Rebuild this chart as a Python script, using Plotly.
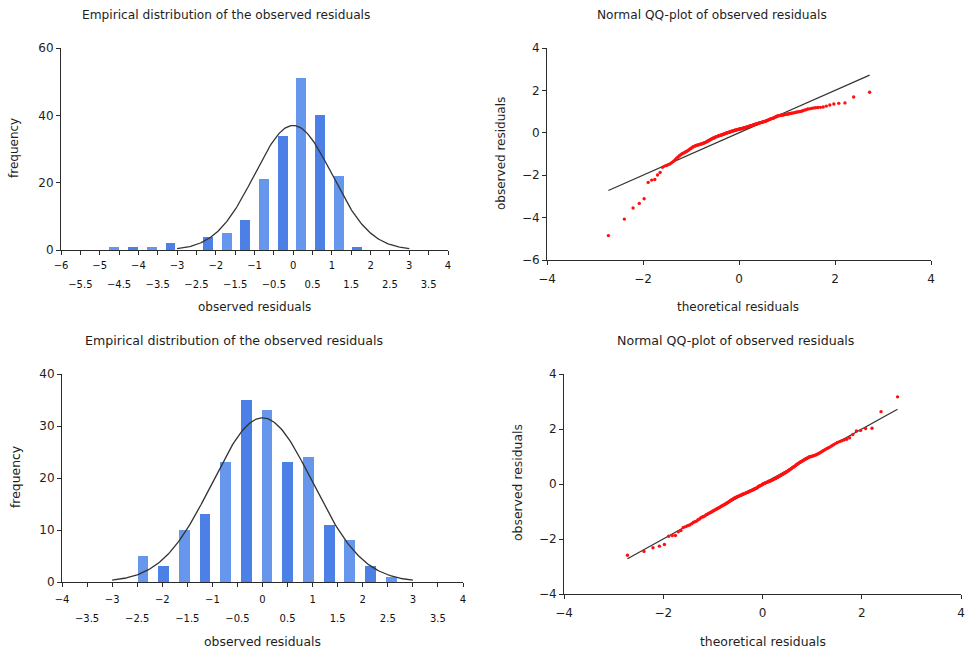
import numpy as np
import plotly.graph_objects as go
from statistics import NormalDist

W, H = 967, 655

# ---------------- data ----------------
top_bin_centers = [-4.62, -4.137, -3.654, -3.171, -2.688, -2.205, -1.722, -1.239,
                   -0.756, -0.273, 0.21, 0.693, 1.176, 1.659]
top_counts = [1, 1, 1, 2, 0, 4, 5, 9, 21, 34, 51, 40, 22, 1]

bottom_bin_centers = [-2.384, -1.972, -1.559, -1.147, -0.734, -0.322, 0.09, 0.503,
                      0.915, 1.328, 1.74, 2.153, 2.565]
bottom_counts = [5, 3, 10, 13, 23, 35, 33, 23, 24, 11, 8, 3, 1]

top_obs = [
    -4.85, -4.07, -3.55, -3.33, -3.11, -2.34, -2.23, -2.20, -1.99, -1.87,
    -1.63, -1.57, -1.54, -1.50, -1.46, -1.40, -1.34, -1.27, -1.20, -1.14,
    -1.08, -1.03, -0.99, -0.96, -0.93, -0.90, -0.87, -0.84, -0.80, -0.76,
    -0.73, -0.70, -0.66, -0.64, -0.62, -0.60, -0.59, -0.58, -0.56, -0.55,
    -0.54, -0.53, -0.51, -0.50, -0.48, -0.47, -0.45, -0.43, -0.41, -0.39,
    -0.37, -0.35, -0.33, -0.31, -0.29, -0.27, -0.26, -0.24, -0.23, -0.21,
    -0.19, -0.18, -0.17, -0.16, -0.14, -0.13, -0.12, -0.11, -0.10, -0.09,
    -0.08, -0.07, -0.06, -0.05, -0.03, -0.02, -0.01, 0.00, 0.01, 0.02,
    0.03, 0.04, 0.05, 0.06, 0.07, 0.08, 0.09, 0.10, 0.11, 0.12,
    0.12, 0.13, 0.14, 0.15, 0.16, 0.17, 0.17, 0.18, 0.19, 0.19,
    0.20, 0.21, 0.22, 0.23, 0.23, 0.24, 0.25, 0.26, 0.27, 0.28,
    0.29, 0.30, 0.31, 0.32, 0.33, 0.34, 0.35, 0.36, 0.37, 0.38,
    0.39, 0.40, 0.41, 0.42, 0.43, 0.44, 0.45, 0.46, 0.47, 0.48,
    0.49, 0.50, 0.51, 0.52, 0.53, 0.54, 0.55, 0.57, 0.58, 0.60,
    0.61, 0.63, 0.64, 0.66, 0.67, 0.68, 0.70, 0.71, 0.73, 0.75,
    0.77, 0.79, 0.80, 0.81, 0.82, 0.83, 0.84, 0.84, 0.85, 0.86,
    0.87, 0.88, 0.89, 0.90, 0.91, 0.92, 0.93, 0.94, 0.95, 0.97,
    0.98, 0.99, 1.00, 1.02, 1.04, 1.07, 1.09, 1.12, 1.13, 1.15,
    1.17, 1.18, 1.19, 1.20, 1.22, 1.26, 1.31, 1.36, 1.39, 1.41,
    1.69, 1.91,
]

bottom_obs = [
    -2.59, -2.45, -2.32, -2.26, -2.20, -1.90, -1.87, -1.87, -1.74, -1.69,
    -1.58, -1.55, -1.52, -1.49, -1.45, -1.40, -1.37, -1.35, -1.30, -1.27,
    -1.23, -1.20, -1.18, -1.16, -1.12, -1.10, -1.07, -1.05, -1.03, -1.01,
    -0.98, -0.96, -0.94, -0.92, -0.90, -0.88, -0.86, -0.84, -0.82, -0.80,
    -0.78, -0.76, -0.75, -0.73, -0.71, -0.69, -0.67, -0.65, -0.63, -0.61,
    -0.59, -0.57, -0.55, -0.54, -0.52, -0.51, -0.49, -0.48, -0.46, -0.45,
    -0.44, -0.43, -0.42, -0.41, -0.40, -0.38, -0.37, -0.36, -0.35, -0.34,
    -0.33, -0.32, -0.31, -0.30, -0.29, -0.27, -0.26, -0.25, -0.24, -0.23,
    -0.22, -0.21, -0.20, -0.18, -0.17, -0.16, -0.15, -0.14, -0.12, -0.10,
    -0.08, -0.07, -0.06, -0.05, -0.04, -0.02, -0.01, 0.01, 0.02, 0.03,
    0.04, 0.05, 0.06, 0.07, 0.08, 0.09, 0.10, 0.11, 0.12, 0.13,
    0.14, 0.15, 0.17, 0.18, 0.19, 0.20, 0.21, 0.23, 0.24, 0.25,
    0.27, 0.28, 0.30, 0.31, 0.33, 0.34, 0.36, 0.37, 0.39, 0.40,
    0.42, 0.44, 0.45, 0.47, 0.49, 0.51, 0.53, 0.55, 0.57, 0.59,
    0.61, 0.63, 0.65, 0.67, 0.70, 0.72, 0.74, 0.76, 0.78, 0.80,
    0.82, 0.84, 0.86, 0.88, 0.90, 0.92, 0.94, 0.96, 0.98, 0.99,
    1.00, 1.01, 1.02, 1.04, 1.05, 1.07, 1.09, 1.11, 1.14, 1.17,
    1.20, 1.23, 1.26, 1.29, 1.32, 1.35, 1.39, 1.43, 1.47, 1.51,
    1.54, 1.57, 1.60, 1.63, 1.68, 1.80, 1.93, 1.95, 2.02, 2.03,
    2.63, 3.17,
]

top_hist_range = [-6, 4]
bottom_hist_range = [-4, 4]
qq_x_ticks = [-4, -2, 0, 2, 4]
top_qq_y_ticks = [-6, -4, -2, 0, 2, 4]
bottom_qq_y_ticks = [-4, -2, 0, 2, 4]
top_freq_ticks = [0, 20, 40, 60]
bottom_freq_ticks = [0, 10, 20, 30, 40]

title_hist = "Empirical distribution of the observed residuals"
title_qq = "Normal QQ-plot of observed residuals"

# ---------------- styling ----------------
FONT = "DejaVu Sans"
TXT = "#1e1e1e"
AX = "#2b2b2b"
LIGHT = "#6797ec"
DARK = "#4c80e6"

def fx(px):
    return px / W

def fy(py):
    return 1 - py / H

def theo_quantiles(n):
    nd = NormalDist()
    return [nd.inv_cdf((i - 0.375) / (n + 0.25)) for i in range(1, n + 1)]

def lab(v):
    s = ("%g" % v)
    return s.replace("-", "\u2212")

fig = go.Figure()

def add_hist(centers, counts, xa, ya):
    bw = centers[1] - centers[0]
    cols = [LIGHT if i % 2 == 0 else DARK for i in range(len(counts))]
    fig.add_trace(go.Bar(x=centers, y=counts, width=bw * 0.53,
                         marker=dict(color=cols, line=dict(width=0)),
                         xaxis=xa, yaxis=ya, showlegend=False, hoverinfo="x+y"))
    n = sum(counts)
    nd = NormalDist()
    xs = np.linspace(-3, 3, 241)
    ys = [n * bw * nd.pdf(v) for v in xs]
    fig.add_trace(go.Scatter(x=xs, y=ys, mode="lines",
                             line=dict(color="#333333", width=1.3),
                             xaxis=xa, yaxis=ya, showlegend=False, hoverinfo="skip"))

def add_qq(obs, xa, ya):
    t = theo_quantiles(len(obs))
    fig.add_trace(go.Scatter(x=[t[0], t[-1]], y=[t[0], t[-1]], mode="lines",
                             line=dict(color="#333333", width=1.2),
                             xaxis=xa, yaxis=ya, showlegend=False, hoverinfo="skip"))
    fig.add_trace(go.Scatter(x=t, y=obs, mode="markers",
                             marker=dict(color="#ff1010", size=3.4, line=dict(width=0)),
                             xaxis=xa, yaxis=ya, showlegend=False))

add_hist(top_bin_centers, top_counts, "x", "y")
add_qq(top_obs, "x2", "y2")
add_hist(bottom_bin_centers, bottom_counts, "x3", "y3")
add_qq(bottom_obs, "x4", "y4")

# invisible traces for overlay axes of half-step labels
fig.add_trace(go.Scatter(x=top_hist_range, y=[0, 0], mode="lines", line=dict(width=0),
                         xaxis="x5", yaxis="y", showlegend=False, hoverinfo="skip"))
fig.add_trace(go.Scatter(x=bottom_hist_range, y=[0, 0], mode="lines", line=dict(width=0),
                         xaxis="x6", yaxis="y3", showlegend=False, hoverinfo="skip"))

common = dict(showgrid=False, zeroline=False, showline=True, linecolor=AX, linewidth=1,
              ticks="outside", tickcolor=AX, ticklen=4, tickwidth=1, automargin=False)

def hist_xaxes(rng):
    steps = np.arange(rng[0], rng[1] + 0.001, 0.5)
    ints = [float(v) for v in steps]
    major_text = [lab(v) if abs(v - round(v)) < 1e-9 else "" for v in ints]
    halves = [v for v in ints if abs(v - round(v)) > 1e-9]
    return ints, major_text, halves, [lab(v) for v in halves]

tv, tt, hv, ht = hist_xaxes(top_hist_range)
bv, bt, bhv, bht = hist_xaxes(bottom_hist_range)

tickf_small = dict(family=FONT, size=10, color="#111111")
tickf = dict(family=FONT, size=12, color=TXT)

fig.update_layout(
    width=W, height=H, margin=dict(l=0, r=0, t=0, b=0, autoexpand=False),
    paper_bgcolor="white", plot_bgcolor="white", showlegend=False, bargap=0,
    xaxis=dict(domain=[fx(61), fx(448)], range=top_hist_range, anchor="y",
               tickvals=tv, ticktext=tt, tickfont=tickf_small, ticklabelstandoff=2, **common),
    xaxis5=dict(overlaying="x", anchor="y", range=top_hist_range, showgrid=False,
                zeroline=False, showline=False, ticks="", tickvals=hv, ticktext=ht,
                tickfont=tickf_small, ticklabelstandoff=27, automargin=False),
    yaxis=dict(domain=[fy(250), fy(48)], range=[0, 60], anchor="x",
               tickvals=top_freq_ticks, tickfont=tickf, **common),
    xaxis2=dict(domain=[fx(547), fx(931)], range=[-4, 4], anchor="y2",
                tickvals=qq_x_ticks, ticktext=[lab(v) for v in qq_x_ticks],
                tickfont=tickf, ticklabelstandoff=4, **common),
    yaxis2=dict(domain=[fy(260), fy(48)], range=[-6, 4], anchor="x2",
                tickvals=top_qq_y_ticks, ticktext=[lab(v) for v in top_qq_y_ticks],
                tickfont=tickf, **common),
    xaxis3=dict(domain=[fx(62), fx(463)], range=bottom_hist_range, anchor="y3",
                tickvals=bv, ticktext=bt, tickfont=tickf_small, ticklabelstandoff=4, **common),
    xaxis6=dict(overlaying="x3", anchor="y3", range=bottom_hist_range, showgrid=False,
                zeroline=False, showline=False, ticks="", tickvals=bhv, ticktext=bht,
                tickfont=tickf_small, ticklabelstandoff=29, automargin=False),
    yaxis3=dict(domain=[fy(582), fy(374)], range=[0, 40], anchor="x3",
                tickvals=bottom_freq_ticks, tickfont=tickf, **common),
    xaxis4=dict(domain=[fx(564), fx(961)], range=[-4, 4], anchor="y4",
                tickvals=qq_x_ticks, ticktext=[lab(v) for v in qq_x_ticks],
                tickfont=tickf, ticklabelstandoff=4, **common),
    yaxis4=dict(domain=[fy(594), fy(374)], range=[-4, 4], anchor="x4",
                tickvals=bottom_qq_y_ticks, ticktext=[lab(v) for v in bottom_qq_y_ticks],
                tickfont=tickf, **common),
)

def ann(text, px, py, angle=0, size=12.2):
    fig.add_annotation(text=text, x=fx(px), y=fy(py), xref="paper", yref="paper",
                       showarrow=False, textangle=angle, xanchor="center", yanchor="middle",
                       font=dict(family=FONT, size=size, color=TXT))

ann(title_hist, 226, 15)
ann(title_qq, 712, 15)
ann(title_hist, 234, 340, size=12.6)
ann(title_qq, 735, 340, size=12.6)
ann("observed residuals", 254, 307, size=12)
ann("theoretical residuals", 738, 307, size=12)
ann("observed residuals", 262, 641, size=12.4)
ann("theoretical residuals", 763, 641, size=12.4)
ann("frequency", 14, 148, angle=-90, size=12)
ann("observed residuals", 501, 154, angle=-90, size=12)
ann("frequency", 15, 477, angle=-90, size=12.4)
ann("observed residuals", 517, 483, angle=-90, size=12.4)

fig.write_html("out.html", config={"displayModeBar": False},
               post_script="document.body.style.margin='0px';document.body.style.overflow='hidden';")
